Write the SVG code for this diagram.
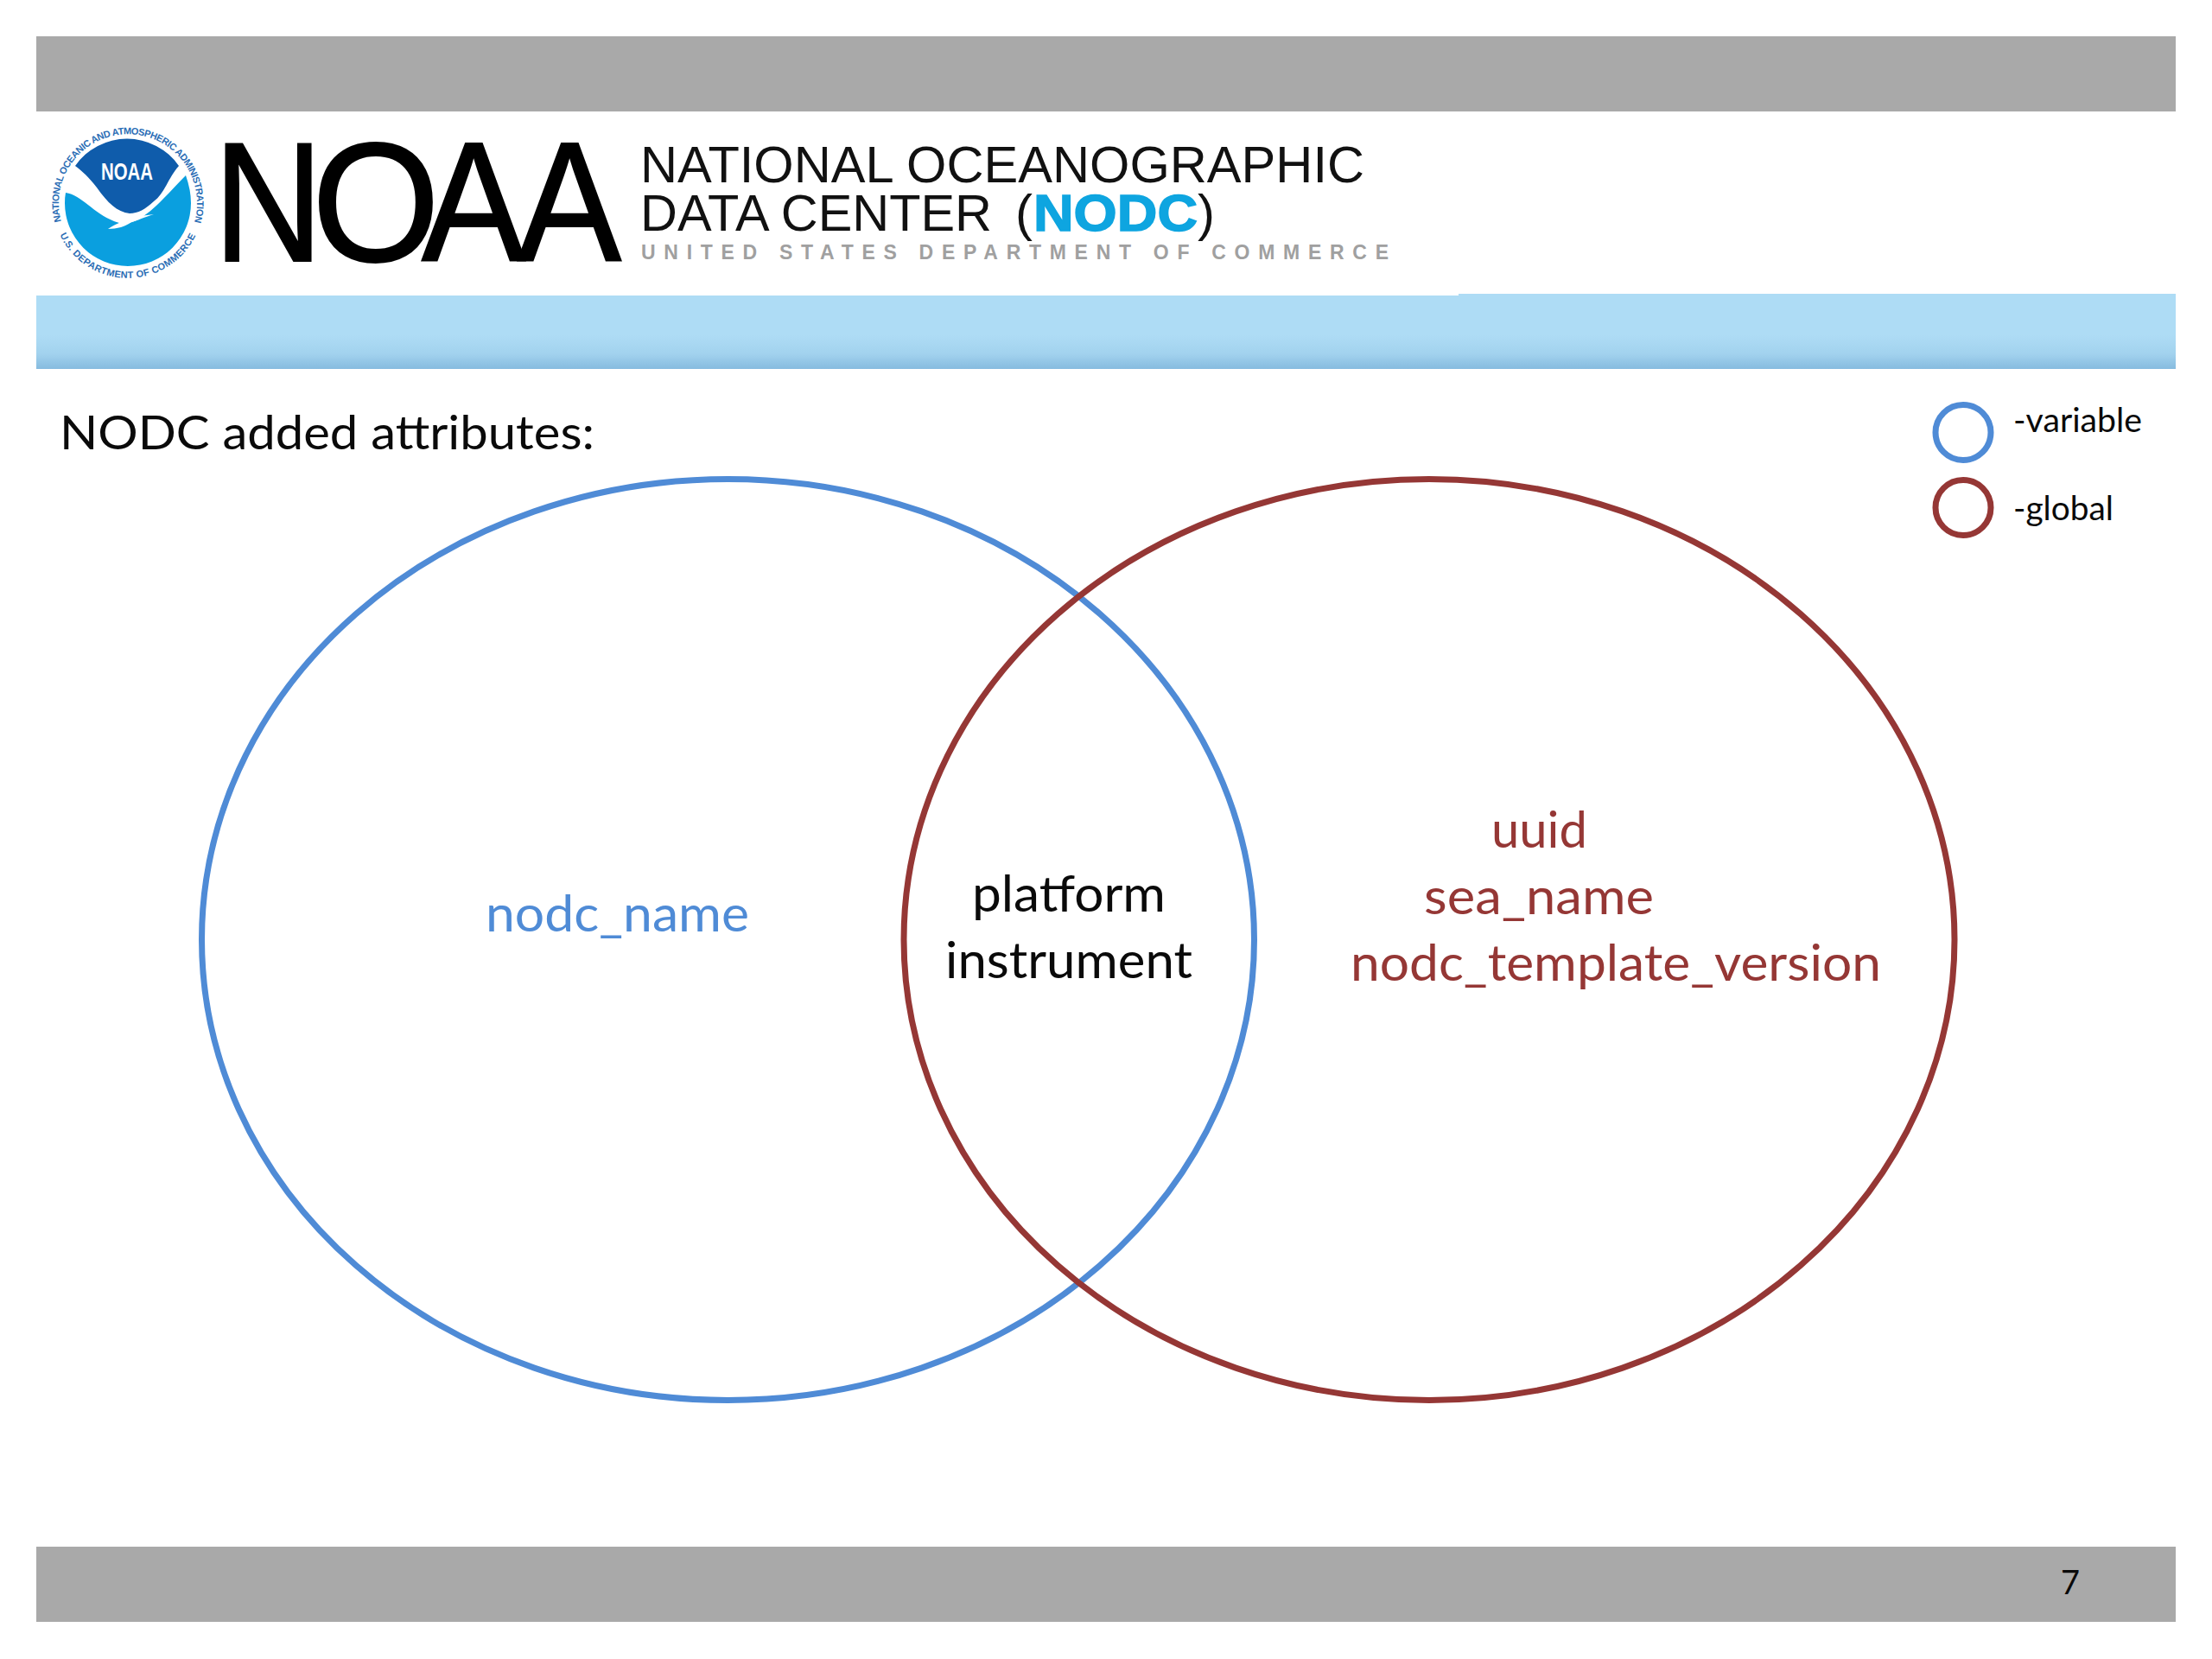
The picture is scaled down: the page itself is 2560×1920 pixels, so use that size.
<svg xmlns="http://www.w3.org/2000/svg" width="2560" height="1920" viewBox="0 0 2560 1920">
<style>
.bar{fill:#a9a9a9}
.cal{font-family:"Lato","Carlito","Open Sans",sans-serif}
.hel{font-family:"Liberation Sans",Arial,sans-serif}
.big{font-size:58px}
.blue{fill:#4f8bd6}
.red{fill:#953735}
.ink{fill:#0a0a0a}
.sb{fill:none;stroke:#4f8bd6}
.sr{fill:none;stroke:#953735}
.seal{font-size:11px;font-weight:700;fill:#2a6db5}
</style>
<defs>
<linearGradient id="band" x1="0" y1="0" x2="0" y2="1">
<stop offset="0" stop-color="#aedcf5"/><stop offset="0.55" stop-color="#aedcf5"/><stop offset="0.8" stop-color="#a2d2ee"/><stop offset="1" stop-color="#86bbdf"/>
</linearGradient>
<path id="arcTop" d="M71 257A80 80 0 1 1 225 257"/>
<path id="arcBot" d="M68.400 270A87 87 0 0 0 227.600 270"/>
</defs>
<rect width="2560" height="1920" fill="#fff"/>
<g id="header-bar"><rect class="bar" x="42" y="42" width="2476" height="87"/></g>
<g id="logo-seal">
<path d="M76 223C96 226 110 250 138 258L150 258C172 252 192 226 215 203Q221 220 221 235A73 73 0 1 1 75 235Q75 228 76 223Z" fill="#0a9fdf"/>
<path d="M87 192A73 73 0 0 1 207 192C195 205 190 225 178 233C168 242 160 247 150 247C135 245 125 235 112 217C103 205 95 198 87 192Z" fill="#0f5cab"/>
<path d="M125 265C135 258 145 256 147 252L178 248C165 252 160 255 152 257C146 262 135 265 125 265Z" fill="#fff"/>
<text class="hel seal" textLength="294"><textPath href="#arcTop" startOffset="1">NATIONAL OCEANIC AND ATMOSPHERIC ADMINISTRATION</textPath></text>
<text class="hel seal" textLength="196"><textPath href="#arcBot" startOffset="2">U.S. DEPARTMENT OF COMMERCE</textPath></text>
<text class="hel" x="117" y="208" font-size="27" font-weight="700" fill="#fff" textLength="60" lengthAdjust="spacingAndGlyphs">NOAA</text>
</g>
<g id="logo-wordmark">
<text class="hel" y="302" font-size="197" fill="#000" stroke="#000" stroke-width="2"><tspan x="247" textLength="127" lengthAdjust="spacingAndGlyphs">N</tspan><tspan x="361" textLength="148" lengthAdjust="spacingAndGlyphs">O</tspan><tspan x="488" textLength="120" lengthAdjust="spacingAndGlyphs">A</tspan><tspan x="599" textLength="120" lengthAdjust="spacingAndGlyphs">A</tspan></text>
<text class="hel" x="741" y="211" font-size="60" fill="#111" textLength="838" lengthAdjust="spacingAndGlyphs">NATIONAL OCEANOGRAPHIC</text>
<text class="hel" x="741" y="267" font-size="60" fill="#111" textLength="407" lengthAdjust="spacingAndGlyphs">DATA CENTER</text>
<text class="hel" x="1175" y="267" font-size="60" fill="#111">(</text>
<text class="hel" x="1196" y="267" font-size="60" font-weight="700" fill="#0ea5e0" stroke="#0ea5e0" stroke-width="1.500" textLength="190" lengthAdjust="spacingAndGlyphs">NODC</text>
<text class="hel" x="1386" y="267" font-size="60" fill="#111">)</text>
<text class="hel" x="742" y="300" font-size="23" font-weight="700" fill="#a0a0a0" textLength="865" lengthAdjust="spacing">UNITED STATES DEPARTMENT OF COMMERCE</text>
</g>
<g id="blue-band"><path d="M42 342H1688V340H2518V427H42Z" fill="url(#band)"/></g>
<g id="title"><text class="cal" x="69" y="520" font-size="54" fill="#0a0a0a" textLength="619" lengthAdjust="spacingAndGlyphs">NODC added attributes:</text></g>
<g id="legend">
<circle class="sb" cx="2272" cy="500.500" r="32" stroke-width="7"/>
<text class="cal ink" x="2330" y="500" font-size="38" textLength="149" lengthAdjust="spacingAndGlyphs">-variable</text>
<circle class="sr" cx="2272" cy="587.500" r="32" stroke-width="7"/>
<text class="cal ink" x="2330" y="602" font-size="38" textLength="116" lengthAdjust="spacingAndGlyphs">-global</text>
</g>
<g id="venn-variable"><ellipse class="sb" cx="842.500" cy="1087.500" rx="609" ry="533" stroke-width="7"/>
<text class="cal big blue" x="562" y="1078" textLength="305" lengthAdjust="spacingAndGlyphs">nodc_name</text></g>
<g id="venn-global"><ellipse class="sr" cx="1654" cy="1087.500" rx="608" ry="533" stroke-width="7"/>
<text class="cal big red" x="1726" y="981" textLength="111" lengthAdjust="spacingAndGlyphs">uuid</text>
<text class="cal big red" x="1648" y="1058" textLength="266" lengthAdjust="spacingAndGlyphs">sea_name</text>
<text class="cal big red" x="1563" y="1135" textLength="614" lengthAdjust="spacingAndGlyphs">nodc_template_version</text></g>
<g id="venn-both">
<text class="cal big ink" x="1125" y="1055" textLength="224" lengthAdjust="spacingAndGlyphs">platform</text>
<text class="cal big ink" x="1094" y="1132" textLength="286" lengthAdjust="spacingAndGlyphs">instrument</text></g>
<g id="footer-bar"><rect class="bar" x="42" y="1790" width="2476" height="87"/>
<text class="cal ink" x="2385" y="1845" font-size="39" textLength="22" lengthAdjust="spacingAndGlyphs">7</text></g>
</svg>
